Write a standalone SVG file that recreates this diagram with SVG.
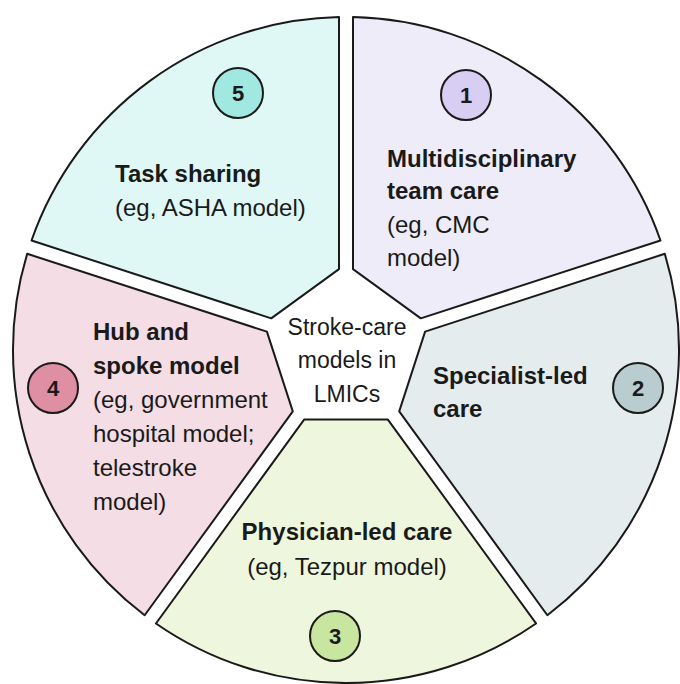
<svg xmlns="http://www.w3.org/2000/svg" width="680" height="684" viewBox="0 0 680 684">
<defs>
<path id="seg" d="M 353 269.1 L 353 17.07 A 333 333 0 0 1 660.49 240.46 L 420.78 318.34 Z"/>
</defs>
<style>
.sg{stroke:#1a1a1a;stroke-width:2;stroke-linejoin:round}
.nc{stroke:#1a1a1a;stroke-width:2}
text{font-family:"Liberation Sans",Arial,sans-serif;fill:#1a1a1a}
.b{font-size:24px;font-weight:bold}
.r{font-size:24px}
.c{font-size:23px;text-anchor:middle}
.n{font-size:22px;font-weight:bold;text-anchor:middle}
.m{text-anchor:middle}
</style>
<rect width="680" height="684" fill="#ffffff"/>
<g id="segment1">
<use href="#seg" class="sg" fill="#efecf9"/>
<circle class="nc" cx="466" cy="95" r="25" fill="#d8cdf2"/>
<text class="n" x="466" y="103">1</text>
<text class="b" x="387" y="167">Multidisciplinary</text>
<text class="b" x="387" y="199">team care</text>
<text class="r" x="387" y="233">(eg, CMC</text>
<text class="r" x="387" y="266">model)</text>
</g>
<g id="segment2">
<use href="#seg" class="sg" fill="#e5ecee" transform="rotate(72 346 350)"/>
<circle class="nc" cx="638" cy="388" r="25" fill="#b9cdd0"/>
<text class="n" x="638" y="396">2</text>
<text class="b" x="433" y="384">Specialist-led</text>
<text class="b" x="433" y="417">care</text>
</g>
<g id="segment3">
<use href="#seg" class="sg" fill="#eef7dd" transform="rotate(144 346 350)"/>
<circle class="nc" cx="335" cy="636" r="25" fill="#c8e6a0"/>
<text class="n" x="335" y="644">3</text>
<text class="b m" x="347" y="540">Physician-led care</text>
<text class="r m" x="347" y="575">(eg, Tezpur model)</text>
</g>
<g id="segment4">
<use href="#seg" class="sg" fill="#f4dde4" transform="rotate(216 346 350)"/>
<circle class="nc" cx="53" cy="388" r="25" fill="#de8fa4"/>
<text class="n" x="53" y="396">4</text>
<text class="b" x="93" y="340">Hub and</text>
<text class="b" x="93" y="374">spoke model</text>
<text class="r" x="93" y="408">(eg, government</text>
<text class="r" x="93" y="442">hospital model;</text>
<text class="r" x="93" y="476">telestroke</text>
<text class="r" x="93" y="510">model)</text>
</g>
<g id="segment5">
<use href="#seg" class="sg" fill="#dff7f5" transform="rotate(288 346 350)"/>
<circle class="nc" cx="238" cy="93" r="25" fill="#a0e8e0"/>
<text class="n" x="238" y="101">5</text>
<text class="b" x="115" y="182">Task sharing</text>
<text class="r" x="115" y="216">(eg, ASHA model)</text>
</g>
<g id="center">
<text class="c" x="347" y="335">Stroke-care</text>
<text class="c" x="347" y="368">models in</text>
<text class="c" x="347" y="402">LMICs</text>
</g>
<g id="connectors"/>
</svg>
